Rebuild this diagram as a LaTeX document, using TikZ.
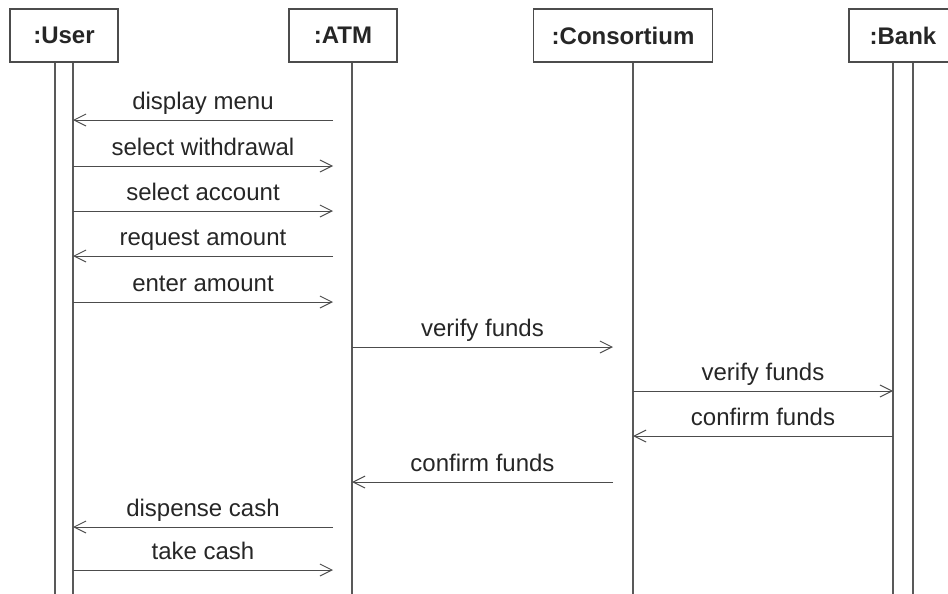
\documentclass[tikz,border=0pt]{standalone}
\usepackage{fontspec}
\setmainfont{Liberation Sans}
\usetikzlibrary{arrows.meta,calc}
\tikzset{
    seqobject/.style={draw=black!70, line width=0.7pt, fill=white, font=\fontsize{12}{14}\selectfont\bfseries, text=black!85, minimum width=54pt, minimum height=26.5pt, inner xsep=9pt},
    seqlife/.style={draw=black!65, line width=0.6pt},
    seqmsg/.style={draw=black!70, line width=0.5pt, -{Straight Barb[length=6pt,width=6pt]}},
    seqlabel/.style={font=\fontsize{12}{14}\selectfont, text=black!85, anchor=base, yshift=5.5pt, inner sep=0pt}
}
\begin{document}
\begin{tikzpicture}[x=0.5pt, y=-0.5pt]
    \useasboundingbox (0,0) rectangle (948,594);
    \clip (0,0) rectangle (948,594);
    \node[seqobject] (user) at (64,35.5) {:User};
    \node[seqobject] (atm) at (343,35.5) {:ATM};
    \node[seqobject] (cons) at (623,35.5) {:Consortium};
    \node[seqobject] (bank) at (903,35.5) {:Bank};
    % lifelines and activation bars
    \coordinate (userL) at ($(user.south)+(-9,0)$);
    \coordinate (userR) at ($(user.south)+(9,0)$);
    \coordinate (atmL) at ($(atm.south)+(-10,0)$);
    \coordinate (atmR) at ($(atm.south)+(9,0)$);
    \coordinate (consL) at ($(cons.south)+(-10,0)$);
    \coordinate (consR) at ($(cons.south)+(10,0)$);
    \coordinate (bankL) at ($(bank.south)+(-10,0)$);
    \coordinate (bankR) at ($(bank.south)+(10,0)$);
    \draw[seqlife] (userL) -- (userL |- 0,594);
    \draw[seqlife] (userR) -- (userR |- 0,594);
    \draw[seqlife] (atmR) -- (atmR |- 0,594);
    \draw[seqlife] (consR) -- (consR |- 0,594);
    \draw[seqlife] (bankL) -- (bankL |- 0,594);
    \draw[seqlife] (bankR) -- (bankR |- 0,594);
    % messages
    \draw[seqmsg] (atmL |- 0,120) -- node[seqlabel] {display menu} (userR |- 0,120);
    \draw[seqmsg] (userR |- 0,166) -- node[seqlabel] {select withdrawal} (atmL |- 0,166);
    \draw[seqmsg] (userR |- 0,211) -- node[seqlabel] {select account} (atmL |- 0,211);
    \draw[seqmsg] (atmL |- 0,256) -- node[seqlabel] {request amount} (userR |- 0,256);
    \draw[seqmsg] (userR |- 0,302) -- node[seqlabel] {enter amount} (atmL |- 0,302);
    \draw[seqmsg] (atmR |- 0,347) -- node[seqlabel] {verify funds} (consL |- 0,347);
    \draw[seqmsg] (consR |- 0,391) -- node[seqlabel] {verify funds} (bankL |- 0,391);
    \draw[seqmsg] (bankL |- 0,436) -- node[seqlabel] {confirm funds} (consR |- 0,436);
    \draw[seqmsg] (consL |- 0,482) -- node[seqlabel] {confirm funds} (atmR |- 0,482);
    \draw[seqmsg] (atmL |- 0,527) -- node[seqlabel] {dispense cash} (userR |- 0,527);
    \draw[seqmsg] (userR |- 0,570) -- node[seqlabel] {take cash} (atmL |- 0,570);
\end{tikzpicture}
\end{document}
